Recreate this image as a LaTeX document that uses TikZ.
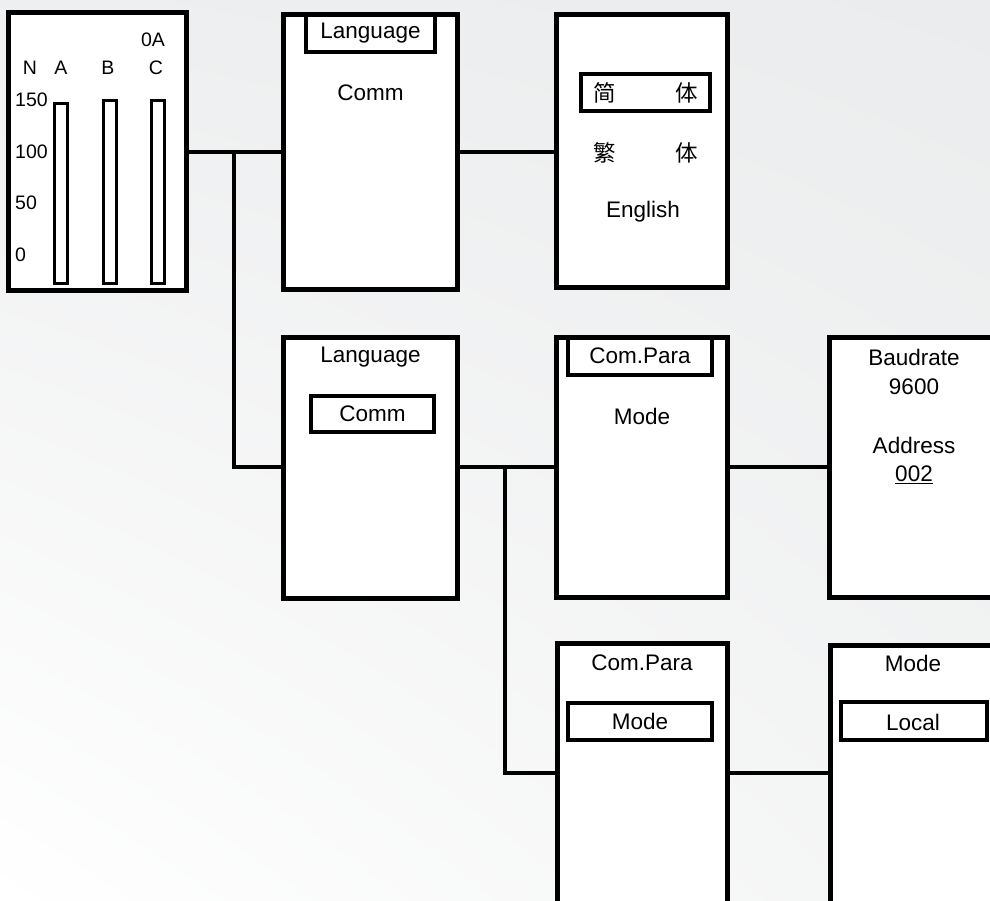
\documentclass[tikz,border=0pt]{standalone}
\usepackage{fontspec}
\usetikzlibrary{shadings}
\setmainfont{Liberation Sans}
\newfontfamily\cjk{Noto Sans CJK SC}
\definecolor{bgA}{HTML}{EEEFF0}
\definecolor{bgB}{HTML}{EBECED}
\definecolor{bgC}{HTML}{F3F4F4}
\tikzset{
  box/.style={draw=black, fill=white, line width=5pt, rectangle, inner sep=0pt, outer sep=0pt},
  inbox/.style={draw=black, fill=white, line width=4pt, rectangle, inner sep=0pt, outer sep=0pt},
  bar/.style={draw=black, fill=white, line width=3pt, rectangle, inner sep=0pt, outer sep=0pt},
  conn/.style={draw=black, line width=4.5pt},
  txt/.style={inner sep=0pt, font=\fontsize{22.5}{26}\selectfont},
  lbl/.style={inner sep=0pt, font=\fontsize{19.5}{23}\selectfont},
}
\begin{document}
\begin{tikzpicture}[x=1pt,y=-1pt]
\useasboundingbox (0,0) rectangle (990,901);
\shade[upper left=bgA, upper right=bgB, lower left=white, lower right=bgC] (0,0) rectangle (990,901);
\clip (0,0) rectangle (990,901);

% connectors
\coordinate (j1) at (234,152);
\coordinate (j2) at (505,467);
\coordinate (j3) at (505,773);

% boxes
\node[box, minimum width=177.5pt, minimum height=277pt] (b1) at (97.25,151.5) {};
\node[box, minimum width=174pt, minimum height=274.5pt] (b2) at (370.5,152.25) {};
\node[box, minimum width=171pt, minimum height=272.5pt] (b3) at (642,151.25) {};
\node[box, minimum width=174pt, minimum height=261pt] (b4) at (370.5,468) {};
\node[box, minimum width=171pt, minimum height=260pt] (b5) at (642,467.5) {};
\node[box, minimum width=171pt, minimum height=260pt] (b6) at (915,467.5) {};
\node[box, minimum width=170pt, minimum height=276pt] (b7) at (642,781.5) {};
\node[box, minimum width=170pt, minimum height=276pt] (b8) at (915,783) {};

\draw[conn] (b1.east |- j1) -- (b2.west |- j1);
\draw[conn] (j1) |- (b4.west |- j2);
\draw[conn] (b2.east |- j1) -- (b3.west |- j1);
\draw[conn] (b4.east |- j2) -- (b5.west |- j2);
\draw[conn] (b5.east |- j2) -- (b6.west |- j2);
\draw[conn] (j2) -- (j3) -- (b7.west |- j3);
\draw[conn] (b7.east |- j3) -- (b8.west |- j3);

% box 1 contents
\node[bar, minimum width=13pt, minimum height=180pt] (barA) at (61,193.5) {};
\node[bar, minimum width=13pt, minimum height=183pt] (barB) at (110,192) {};
\node[bar, minimum width=13pt, minimum height=183pt] (barC) at (158,192) {};
\node[lbl] (l0A) at (153,40) {0A};
\node[lbl] (lN) at (30,68) {N};
\node[lbl] (lA) at (61,68) {A};
\node[lbl] (lB) at (108,68) {B};
\node[lbl] (lC) at (156,68) {C};
\node[lbl, anchor=west] (l150) at (15,100) {150};
\node[lbl, anchor=west] (l100) at (15,152) {100};
\node[lbl, anchor=west] (l50) at (15,203) {50};
\node[lbl, anchor=west] (l0) at (15,255) {0};

% box 2 contents
\node[inbox, minimum width=129pt, minimum height=37pt] (i2) at (370.5,33.5) {};
\node[txt] (t2a) at (i2) {Language};
\node[txt] (t2b) at (370.5,93) {Comm};

% box 3 contents
\node[inbox, minimum width=129pt, minimum height=37pt] (i3) at (645.5,92.5) {};
\node[txt] (t3a) at (605,93) {\cjk 简};
\node[txt] (t3b) at (687,93) {\cjk 体};
\node[txt] (t3c) at (605,153) {\cjk 繁};
\node[txt] (t3d) at (687,153) {\cjk 体};
\node[txt] (t3e) at (643,212) {English};

% box 4 contents
\node[txt] (t4a) at (370.5,357) {Language};
\node[inbox, minimum width=123pt, minimum height=36pt] (i4) at (372.5,414) {};
\node[txt] (t4b) at (i4) {Comm};

% box 5 contents
\node[inbox, minimum width=144pt, minimum height=37.5pt] (i5) at (640,356.25) {};
\node[txt] (t5a) at (i5) {Com.Para};
\node[txt] (t5b) at (642,416) {Mode};

% box 6 contents
\node[txt] (t6a) at (914,357) {Baudrate};
\node[txt] (t6b) at (914,387) {9600};
\node[txt] (t6c) at (914,445) {Address};
\node[txt] (t6d) at (914,475) {\underline{002}};

% box 7 contents
\node[txt] (t7a) at (642,663) {Com.Para};
\node[inbox, minimum width=144pt, minimum height=37pt] (i7) at (640,721.5) {};
\node[txt] (t7b) at (i7) {Mode};

% box 8 contents
\node[txt] (t8a) at (913,663) {Mode};
\node[inbox, minimum width=146pt, minimum height=38pt] (i8) at (914,721) {};
\node[txt] (t8b) at (913,722) {Local};
\end{tikzpicture}
\end{document}
